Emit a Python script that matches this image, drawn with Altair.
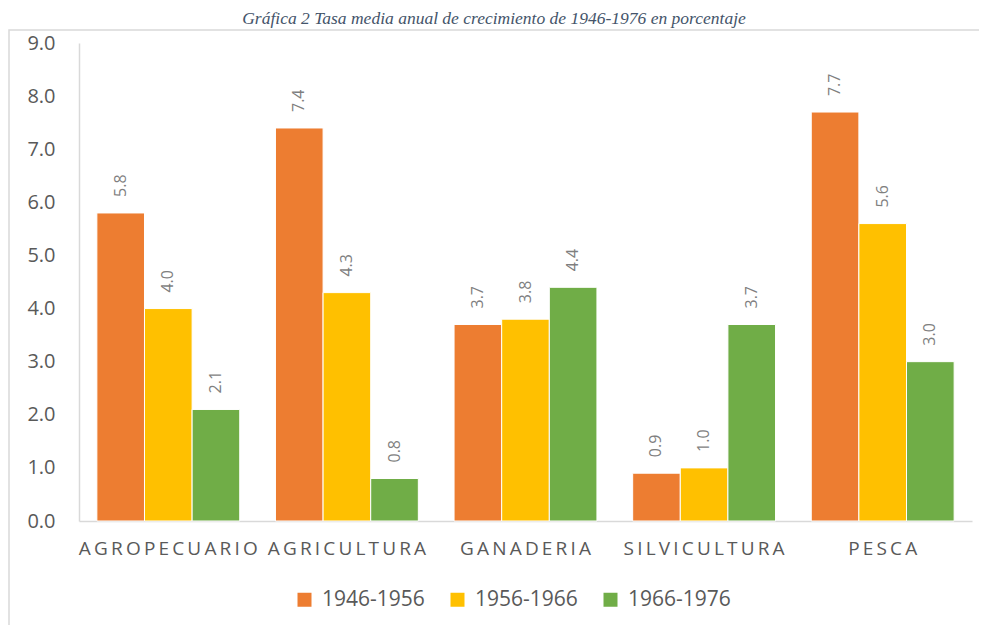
import altair as alt
import pandas as pd

categories = ["AGROPECUARIO", "AGRICULTURA", "GANADERIA", "SILVICULTURA", "PESCA"]
periods = ["1946-1956", "1956-1966", "1966-1976"]
v_1946_1956 = [5.8, 7.4, 3.7, 0.9, 7.7]
v_1956_1966 = [4.0, 4.3, 3.8, 1.0, 5.6]
v_1966_1976 = [2.1, 0.8, 4.4, 3.7, 3.0]
colors = ["#ED7D31", "#FFC000", "#70AD47"]
y_ticks = [0, 1, 2, 3, 4, 5, 6, 7, 8, 9]
title_text = "Gráfica 2 Tasa media anual de crecimiento de 1946-1976 en porcentaje"

rows = []
for p, vals in zip(periods, [v_1946_1956, v_1956_1966, v_1966_1976]):
    for c, v in zip(categories, vals):
        rows.append({"categoria": c, "periodo": p, "valor": v})
df = pd.DataFrame(rows)

FONT = "Open Sans"

base = alt.Chart(df).encode(
    x=alt.X(
        "categoria:N",
        sort=categories,
        title=None,
        scale=alt.Scale(paddingInner=0.2, paddingOuter=0.1),
        axis=alt.Axis(
            labelAngle=0,
            labelExpr="join(split(datum.label, ''), '\u2006')",
            labelFont=FONT,
            labelFontSize=19,
            labelColor="#595959",
            labelPadding=18,
            ticks=False,
            domainColor="#d9d9d9",
            domainWidth=1.5,
            grid=False,
        ),
    ),
    xOffset=alt.XOffset("periodo:N", sort=periods, scale=alt.Scale(paddingInner=0, paddingOuter=0)),
    y=alt.Y(
        "valor:Q",
        title=None,
        scale=alt.Scale(domain=[0, 9], nice=False),
        axis=alt.Axis(
            values=y_ticks,
            format=".1f",
            labelFont=FONT,
            labelFontSize=20,
            labelColor="#595959",
            labelPadding=24,
            ticks=False,
            domainColor="#d9d9d9",
            domainWidth=1.5,
            grid=False,
        ),
    ),
)

bars = base.mark_bar(stroke="white", strokeWidth=1).encode(
    color=alt.Color(
        "periodo:N",
        sort=periods,
        scale=alt.Scale(domain=periods, range=colors),
        legend=alt.Legend(
            title=None,
            orient="none",
            direction="horizontal",
            legendX=215,
            legendY=546,
            padding=0,
            symbolType="square",
            symbolSize=196,
            symbolStrokeWidth=0,
            labelFont=FONT,
            labelFontSize=21,
            labelColor="#595959",
            labelOffset=7,
            columnPadding=22,
        ),
    )
)

labels = base.mark_text(
    angle=270, align="left", baseline="middle", dx=16,
    font=FONT, fontSize=16, color="#7f7f7f",
).encode(text=alt.Text("valor:Q", format=".1f"))

single = alt.Data(values=[{"t": title_text}])

frame = alt.Chart(single).mark_rect(
    fill=None, stroke="#d9d9d9", strokeWidth=1.5
).encode(
    x=alt.value(-70), x2=alt.value(1000), y=alt.value(-13), y2=alt.value(700)
)

title = alt.Chart(single).mark_text(
    font="Liberation Serif", fontStyle="italic", fontSize=17.5, color="#44546A",
    align="center", baseline="alphabetic",
).encode(text="t:N", x=alt.value(415), y=alt.value(-19))

chart = alt.layer(frame, title, bars, labels).properties(
    width=893,
    height=478,
    padding={"left": 71, "top": 35, "right": 7, "bottom": 104},
    autosize="none",
).configure_view(stroke=None)

chart.save("out.html", embed_options={"renderer": "svg", "actions": False})
